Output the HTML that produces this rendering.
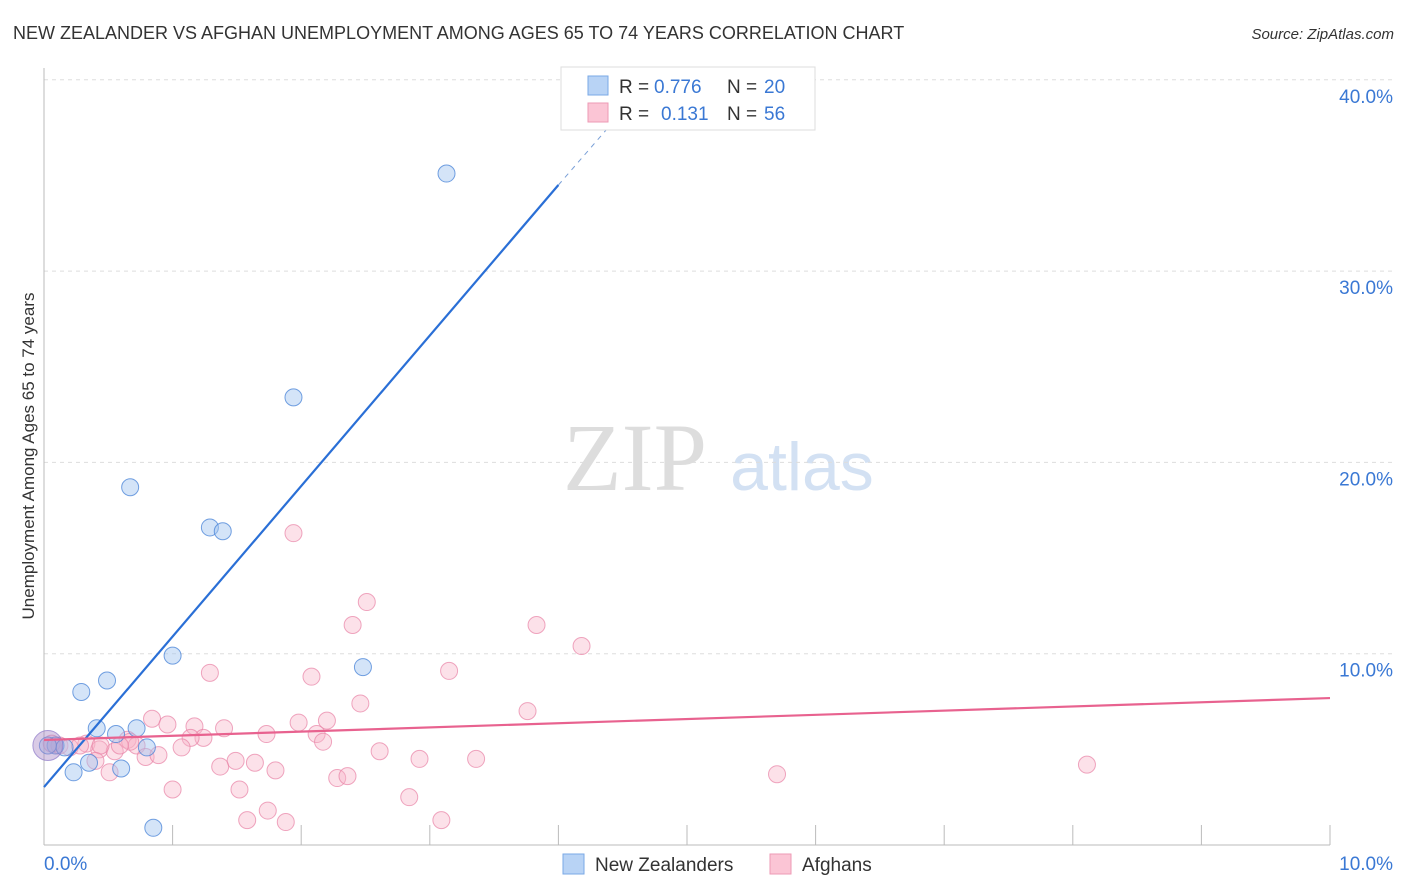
<!DOCTYPE html>
<html><head><meta charset="utf-8"><style>
body{margin:0;background:#fff;font-family:"Liberation Sans",sans-serif;}
svg{display:block}
</style></head><body>
<svg id="chart" width="1406" height="892" xmlns="http://www.w3.org/2000/svg">
<text x="13" y="39" font-size="18" fill="#333">NEW ZEALANDER VS AFGHAN UNEMPLOYMENT AMONG AGES 65 TO 74 YEARS CORRELATION CHART</text>
<text x="1394" y="39" font-size="15" font-style="italic" fill="#333" text-anchor="end">Source: ZipAtlas.com</text>
<text transform="translate(34,456) rotate(-90)" font-size="17" fill="#333" text-anchor="middle">Unemployment Among Ages 65 to 74 years</text>
<g><text x="635" y="490" font-family="Liberation Serif,serif" font-size="96" fill="#ddd" text-anchor="middle">ZIP</text><text x="802" y="490" font-size="68" fill="#d3e1f3" text-anchor="middle">atlas</text></g>
<g id="grid"></g><g id="axes"></g><g id="marks"></g>
<g>
<rect x="561" y="67" width="254" height="63" fill="#fff" stroke="#ddd"/>
<rect x="588" y="76" width="20" height="19" fill="#b8d3f5" stroke="#7aa8e6"/>
<rect x="588" y="103" width="20" height="19" fill="#fbc5d5" stroke="#ee9ab5"/>
<text x="619" y="93" font-size="19" fill="#333">R =</text>
<text x="654" y="93" font-size="19" fill="#3a78d4">0.776</text>
<text x="727" y="93" font-size="19" fill="#333">N =</text>
<text x="764" y="93" font-size="19" fill="#3a78d4">20</text>
<text x="619" y="120" font-size="19" fill="#333">R =</text>
<text x="661" y="120" font-size="19" fill="#3a78d4">0.131</text>
<text x="727" y="120" font-size="19" fill="#333">N =</text>
<text x="764" y="120" font-size="19" fill="#3a78d4">56</text>
</g>
<g>
<rect x="563" y="854" width="21" height="20" fill="#b8d3f5" stroke="#7aa8e6"/>
<text x="595" y="871" font-size="19" fill="#333">New Zealanders</text>
<rect x="770" y="854" width="21" height="20" fill="#fbc5d5" stroke="#ee9ab5"/>
<text x="802" y="871" font-size="19" fill="#333">Afghans</text>
</g>
</svg>
<script>
const yTicks=[10,20,30,40];
const yTickLabels=["10.0%","20.0%","30.0%","40.0%"];
const xTicks=[0,1,2,3,4,5,6,7,8,9,10];
const xTickLabels=["0.0%","10.0%"];
const nzX=[3.13,1.94,0.67,1.29,1.39,1.00,2.48,0.29,0.49,0.41,0.72,0.56,0.80,0.09,0.16,0.35,0.23,0.60,0.85,0.03];
const nzY=[35.1,23.4,18.7,16.6,16.4,9.9,9.3,8.0,8.6,6.1,6.1,5.8,5.1,5.2,5.1,4.3,3.8,4.0,0.9,5.2];
const afX=[1.94,2.51,2.40,3.83,4.18,1.29,3.15,2.08,2.46,3.76,0.84,0.96,1.17,1.40,1.98,2.20,2.12,1.73,1.24,1.14,0.65,0.72,0.33,0.43,0.55,1.07,0.79,0.89,2.17,2.61,2.92,3.36,1.49,1.37,1.64,1.80,0.51,2.28,2.36,1.00,1.52,2.84,1.74,1.58,1.88,3.09,5.70,8.11,0.12,0.20,0.28,0.44,0.67,0.59,0.40,0.06];
const afY=[16.3,12.7,11.5,11.5,10.4,9.0,9.1,8.8,7.4,7.0,6.6,6.3,6.2,6.1,6.4,6.5,5.8,5.8,5.6,5.6,5.5,5.2,5.3,5.0,4.9,5.1,4.6,4.7,5.4,4.9,4.5,4.5,4.4,4.1,4.3,3.9,3.8,3.5,3.6,2.9,2.9,2.5,1.8,1.3,1.2,1.3,3.7,4.2,5.2,5.1,5.2,5.2,5.4,5.2,4.4,5.3];
const nzLine=[0,3.03,4,34.5,4.4,37.6];
const afLine=[0,5.49,10,7.68];
const NS="http://www.w3.org/2000/svg";
const X=v=>44+v*128.6, Y=v=>845-v*19.13;
function mk(t,a,p){const e=document.createElementNS(NS,t);for(const k in a)e.setAttribute(k,a[k]);document.getElementById(p).appendChild(e);return e;}
yTicks.forEach((t,i)=>{
 const g=mk('line',{x1:44,x2:1393,y1:Y(t),y2:Y(t),stroke:'#ddd','stroke-dasharray':'4,4'},'grid');
 
 
 const l=mk('text',{x:1393,y:Y(t)+23,'font-size':19,fill:'#3a78d4','text-anchor':'end'},'axes');l.textContent=yTickLabels[i];
 
 
});
mk('line',{x1:44,x2:44,y1:68,y2:845,stroke:'#bbb'},'axes');
mk('line',{x1:44,x2:1330,y1:845,y2:845,stroke:'#bbb'},'axes');
xTicks.slice(1).forEach(t=>{const e=mk('line',{x1:X(t),x2:X(t),y1:825,y2:845,stroke:'#bbb'},'axes');
 
 });
const l0=mk('text',{x:44,y:870,'font-size':19,fill:'#3a78d4'},'axes');l0.textContent=xTickLabels[0];


const l1=mk('text',{x:1393,y:870,'font-size':19,fill:'#3a78d4','text-anchor':'end'},'axes');l1.textContent=xTickLabels[1];


afX.forEach((x,i)=>{const c=mk('circle',{cx:X(x),cy:Y(afY[i]),r:8.5,fill:'rgba(248,180,200,0.4)',stroke:'rgba(232,130,165,0.7)'},'marks');
 
 });
nzX.forEach((x,i)=>{const c=mk('circle',{cx:X(x),cy:Y(nzY[i]),r:8.5,fill:'rgba(160,195,240,0.45)',stroke:'rgba(70,130,215,0.75)'},'marks');
 
 });
const big=mk('circle',{cx:X(0.03),cy:Y(5.2),r:15,fill:'rgba(170,140,200,0.45)',stroke:'rgba(140,120,200,0.7)'},'marks');


const tl=mk('line',{x1:X(nzLine[0]),y1:Y(nzLine[1]),x2:X(nzLine[2]),y2:Y(nzLine[3]),stroke:'#2a6fd6','stroke-width':2.2},'marks');


const td=mk('line',{x1:X(nzLine[2]),y1:Y(nzLine[3]),x2:X(nzLine[4]),y2:Y(nzLine[5]),stroke:'#7aa0d8','stroke-width':1,'stroke-dasharray':'5,5'},'marks');


const al=mk('line',{x1:X(afLine[0]),y1:Y(afLine[1]),x2:X(afLine[2]),y2:Y(afLine[3]),stroke:'#e8628f','stroke-width':2.2},'marks');


</script>
</body></html>
